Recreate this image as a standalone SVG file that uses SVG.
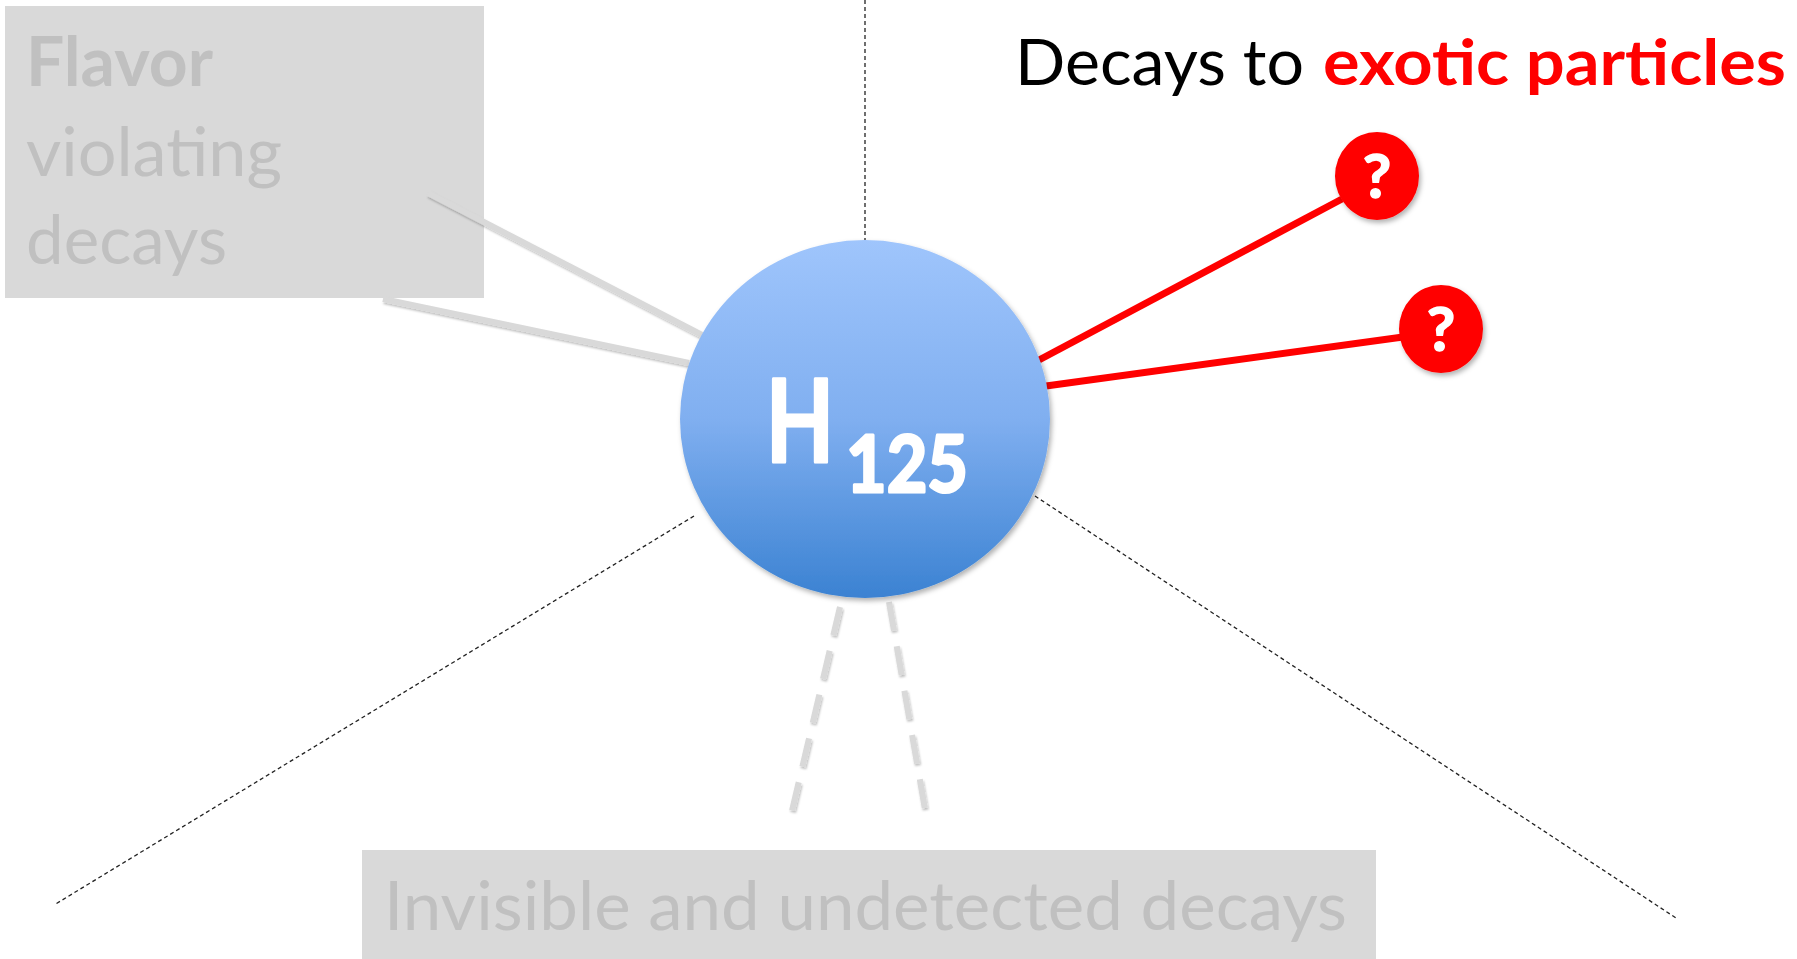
<svg xmlns="http://www.w3.org/2000/svg" width="1797" height="959" viewBox="0 0 1797 959">
<defs>
<linearGradient id="hg" x1="0" y1="0" x2="0" y2="1">
<stop offset="0" stop-color="#9fc5fc"/>
<stop offset="0.5" stop-color="#80aff0"/>
<stop offset="1" stop-color="#3b82d2"/>
</linearGradient>
<filter id="sh" x="-20%" y="-20%" width="140%" height="140%">
<feDropShadow dx="2" dy="3" stdDeviation="2.5" flood-color="#000" flood-opacity="0.3"/>
</filter>
<filter id="lsh" x="-10%" y="-10%" width="120%" height="120%">
<feDropShadow dx="1" dy="2" stdDeviation="1.2" flood-color="#000" flood-opacity="0.25"/>
</filter>
</defs>
<style>
.gtxt{font-family:Lato,"Open Sans","Liberation Sans",sans-serif;fill:#c0c0c0;font-size:68px}
.title{font-family:Lato,"Open Sans","Liberation Sans",sans-serif;font-size:64px}
.thin{stroke:#222;stroke-width:1.3;stroke-dasharray:4 3;fill:none}
.gl{stroke:#d9d9d9;stroke-width:6;fill:none}
.red{stroke:#ff0000;stroke-width:7;fill:none}
.q{font-family:Lato,"Open Sans","Liberation Sans",sans-serif;font-weight:bold;font-size:62px;fill:#fff;stroke:#fff;stroke-width:1.5;text-anchor:middle}
.hl{font-family:Lato,"Open Sans","Liberation Sans",sans-serif;font-weight:bold;fill:#fff;stroke:#fff;stroke-width:3;stroke-linejoin:round}
</style>
<rect width="1797" height="959" fill="#fff"/>
<g id="flavor">
<rect x="5" y="6" width="479" height="292" fill="#d9d9d9"/>
<text class="gtxt" x="26" y="86" font-weight="bold" textLength="187" lengthAdjust="spacingAndGlyphs">Flavor</text>
<text class="gtxt" x="26" y="176" textLength="256" lengthAdjust="spacingAndGlyphs">violating</text>
<text class="gtxt" x="26" y="264" textLength="201" lengthAdjust="spacingAndGlyphs">decays</text>
</g>
<g id="invisible">
<rect x="362" y="850" width="1014" height="109" fill="#d9d9d9"/>
<text class="gtxt" x="384" y="930" textLength="963" lengthAdjust="spacingAndGlyphs">Invisible and undetected decays</text>
</g>
<g id="connectors">
<line class="thin" x1="865" y1="0" x2="865" y2="240"/>
<line class="thin" x1="694" y1="516" x2="54" y2="905"/>
<line class="thin" x1="1035" y1="496" x2="1676" y2="918"/>
<line class="gl" x1="428" y1="193" x2="702" y2="335" filter="url(#lsh)"/>
<line class="gl" x1="383" y1="299" x2="689" y2="363" filter="url(#lsh)"/>
<line class="red" x1="1039" y1="360" x2="1342" y2="199"/>
<line class="red" x1="1046" y1="386" x2="1403" y2="337"/>
<line class="gl" x1="840" y1="607" x2="791" y2="815" stroke-dasharray="29 16" filter="url(#lsh)"/>
<line class="gl" x1="889" y1="602" x2="926" y2="815" stroke-dasharray="29 16" filter="url(#lsh)"/>
</g>
<g id="title">
<text class="title" x="1015" y="85" fill="#000" textLength="289" lengthAdjust="spacingAndGlyphs">Decays to</text>
<text class="title" x="1323" y="85" fill="#ff0000" font-weight="bold" textLength="463" lengthAdjust="spacingAndGlyphs">exotic particles</text>
</g>
<g id="higgs">
<ellipse cx="865" cy="419" rx="185" ry="179" fill="url(#hg)" filter="url(#sh)"/>
<text class="hl" x="766" y="462" font-size="115" textLength="68" lengthAdjust="spacingAndGlyphs">H</text>
<text class="hl" x="846" y="492" font-size="79" textLength="122" lengthAdjust="spacingAndGlyphs">125</text>
</g>
<g id="q1">
<ellipse cx="1377" cy="176" rx="42" ry="44" fill="#ff0000" filter="url(#sh)"/>
<text class="q" x="1377" y="198">?</text>
</g>
<g id="q2">
<ellipse cx="1441" cy="329" rx="42" ry="44" fill="#ff0000" filter="url(#sh)"/>
<text class="q" x="1441" y="351">?</text>
</g>
</svg>
